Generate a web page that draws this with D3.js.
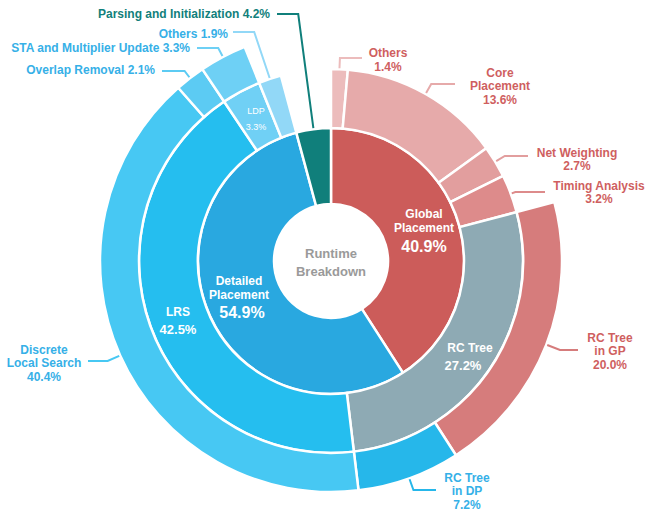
<!DOCTYPE html>
<html>
<head>
<meta charset="utf-8">
<script src="https://cdn.jsdelivr.net/npm/d3@7"></script>
<style>
    body { margin: 0; background: #fff; }
    svg text { font-family: "Liberation Sans", Arial, Helvetica, sans-serif; font-weight: bold; }
</style>
</head>
<body>
<div id="chart"></div>
<script>
// inner ring
const innerNames = ["Global Placement", "Detailed Placement", "Parsing and Initialization"];
const innerValues = [40.9, 54.9, 4.2];
const innerColors = ["#cc5c5a", "#29a8e0", "#107f7b"];

// middle ring (last span = parsing, nothing drawn)
const middleNames = ["Others", "Core Placement", "Net Weighting", "Timing Analysis", "RC Tree", "LRS", "LDP", "Others", null];
const middleValues = [1.4, 13.6, 2.7, 3.2, 27.2, 42.5, 3.3, 1.9, 4.2];
const middleColors = ["#ecbcbc", "#e6aaaa", "#e29e9e", "#dd8b8b", "#8eaab4", "#25beef", "#70d0f5", "#92d8f7", null];

// outer ring (null = empty span)
const outerNames = [null, "RC Tree in GP", "RC Tree in DP", "Discrete Local Search", "Overlap Removal", "STA and Multiplier Update", null];
const outerValues = [20.9, 20.0, 7.2, 40.4, 2.1, 3.3, 6.1];
const outerColors = [null, "#d67c7c", "#26b7ea", "#47c8f3", "#5ccbf3", "#6ed0f5", null];

const redText = "#cf5f5f", blueText = "#36b0e7", tealText = "#117f7b";

// callouts outside the rings
const callouts = [
    {level: 0, index: 2, x: 270, y: 18, anchor: "end", lineY: 14, lineX: 277, color: tealText, inline: true},
    {level: 1, index: 7, x: 228, y: 37.5, anchor: "end", lineY: 32, lineX: 233, color: blueText, inline: true},
    {level: 2, index: 5, x: 190, y: 51.7, anchor: "end", lineY: 48, lineX: 197, color: blueText, inline: true},
    {level: 2, index: 4, x: 155, y: 74.4, anchor: "end", lineY: 71, lineX: 162, color: blueText, inline: true},
    {level: 2, index: 3, x: 44, y: 353.5, anchor: "middle", lineY: 361, lineX: 88, color: blueText, breakAt: 1},
    {level: 2, index: 2, x: 467, y: 481.5, anchor: "middle", lineY: 490, lineX: 436, color: blueText, breakAt: 2},
    {level: 2, index: 1, x: 610, y: 341.5, anchor: "middle", lineY: 350, lineX: 578, color: redText, breakAt: 2},
    {level: 1, index: 3, x: 599, y: 189.5, anchor: "middle", lineY: 192, lineX: 545, color: redText},
    {level: 1, index: 2, x: 577, y: 156.5, anchor: "middle", lineY: 156, lineX: 528, color: redText},
    {level: 1, index: 1, x: 500, y: 76.5, anchor: "middle", lineY: 84, lineX: 455, color: redText, breakAt: 1},
    {level: 1, index: 0, x: 388, y: 57, anchor: "middle", lineY: 58, lineX: 362, color: redText}
];

// labels inside the rings
const insideLabels = [
    {level: 0, index: 0, x: 424, nameY: 217.5, pctY: 252, nameSize: 12, pctSize: 16, breakAt: 1},
    {level: 0, index: 1, x: 242, nameY: 284.5, pctY: 318, nameSize: 12, pctSize: 16, breakAt: 1, nameDx: -3},
    {level: 1, index: 5, x: 178, nameY: 315.5, pctY: 333.7, nameSize: 12, pctSize: 13},
    {level: 1, index: 4, x: 470, nameY: 351.5, pctY: 370, nameSize: 12, pctSize: 13, pctDx: -7},
    {level: 1, index: 6, x: 256, nameY: 113.5, pctY: 129.5, nameSize: 9, pctSize: 9, weight: "normal"}
];

const width = 645, height = 512;
const cx = 331, cy = 261;
const radii = [57, 133, 192, 231];

const svg = d3.select("#chart").append("svg")
    .attr("width", width)
    .attr("height", height);

const g = svg.append("g")
    .attr("transform", `translate(${cx}, ${cy})`);

const pie = d3.pie().sort(null).value(d => d.value);

const rings = [
    [innerNames, innerValues, innerColors],
    [middleNames, middleValues, middleColors],
    [outerNames, outerValues, outerColors]
].map(([names, values, colors], level) => {
    let rows = values.map((v, i) => ({name: names[i], value: v, color: colors[i], level: level, index: i}));
    return pie(rows);
});

rings.forEach((segs, level) => {
    let arc = d3.arc()
        .innerRadius(radii[level])
        .outerRadius(radii[level + 1]);

    g.selectAll(".ring" + level)
        .data(segs.filter(d => d.data.name))
        .enter()
        .append("path")
        .attr("class", "ring" + level)
        .attr("d", arc)
        .style("fill", d => d.data.color)
        .style("stroke", "#fff")
        .style("stroke-width", 2.5);
});

const pct = v => v.toFixed(1) + "%";

function nameLines(name, breakAt) {
    if (!breakAt) return [name];
    let words = name.split(" ");
    return [words.slice(0, breakAt).join(" "), words.slice(breakAt).join(" ")];
}

// callouts: leader line goes out radially from the segment, then horizontal
callouts.forEach(c => {
    let seg = rings[c.level][c.index];
    let a = (seg.startAngle + seg.endAngle) / 2;
    let r0 = radii[c.level + 1] + 1;
    let r1 = (cy - c.lineY) / Math.cos(a);
    let pts = [
        [cx + r0 * Math.sin(a), cy - r0 * Math.cos(a)],
        [cx + r1 * Math.sin(a), c.lineY],
        [c.lineX, c.lineY]
    ];

    svg.append("path")
        .attr("d", d3.line()(pts))
        .style("fill", "none")
        .style("stroke", seg.data.color)
        .style("stroke-width", 2);

    let lines = c.inline
        ? [seg.data.name + " " + pct(seg.data.value)]
        : nameLines(seg.data.name, c.breakAt).concat([pct(seg.data.value)]);

    let text = svg.append("text")
        .attr("text-anchor", c.anchor)
        .style("font-size", "12px")
        .style("fill", c.color);

    lines.forEach((t, i) => {
        text.append("tspan")
            .attr("x", c.x)
            .attr("y", c.y + i * 13.7)
            .text(t);
    });
});

insideLabels.forEach(l => {
    let seg = rings[l.level][l.index];
    let names = nameLines(seg.data.name, l.breakAt);
    let text = svg.append("text")
        .attr("text-anchor", "middle")
        .style("fill", "#fff")
        .style("font-weight", l.weight || "bold");

    names.forEach((t, i) => {
        text.append("tspan")
            .attr("x", l.x + (l.nameDx || 0))
            .attr("y", l.nameY + i * 14)
            .style("font-size", l.nameSize + "px")
            .text(t);
    });
    text.append("tspan")
        .attr("x", l.x + (l.pctDx || 0))
        .attr("y", l.pctY)
        .style("font-size", l.pctSize + "px")
        .text(pct(seg.data.value));
});

// center title
svg.append("text")
    .attr("text-anchor", "middle")
    .style("font-size", "13px")
    .style("fill", "#9a9a9a")
    .selectAll("tspan")
    .data(["Runtime", "Breakdown"])
    .enter()
    .append("tspan")
    .attr("x", cx)
    .attr("y", (d, i) => 258 + i * 17.5)
    .text(d => d);
</script>
</body>
</html>
